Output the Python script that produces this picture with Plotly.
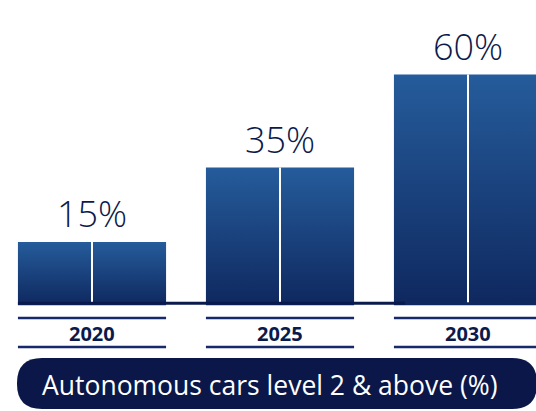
import plotly.graph_objects as go

# ---- data ----
years = ["2020", "2025", "2030"]
values = [15, 35, 60]
labels = ["15%", "35%", "60%"]
caption = "Autonomous cars level 2 & above (%)"

W, H = 536, 411
NAVY = "#0b1a4c"
PILL = "#0a1748"
TOP = "#255c9b"
BOTTOM = "#0f285f"

half = 0.394  # bar half-width in category units
base = -2.0

fig = go.Figure()
xs = list(range(len(years)))
for i, v in zip(xs, values):
    fig.add_trace(go.Scatter(
        x=[i - half, i + half, i + half, i - half, i - half],
        y=[base, base, v, v, base],
        mode="lines", line=dict(width=0), fill="toself",
        fillgradient=dict(type="vertical", start=base, stop=v,
                          colorscale=[[0, BOTTOM], [1, TOP]]),
        hoverinfo="skip", showlegend=False))
    # white divider
    fig.add_trace(go.Scatter(x=[i, i], y=[base + 0.8, v], mode="lines",
                             line=dict(color="white", width=2),
                             hoverinfo="skip", showlegend=False))

shapes = []
# baseline
shapes.append(dict(type="line", xref="x", yref="y", x0=-half, x1=1.665,
                   y0=-1.5, y1=-1.5, line=dict(color="#0b1a4c", width=3)))
# separator lines around year labels
for i in xs:
    for py in (318, 347):
        shapes.append(dict(type="line", xref="x", yref="paper",
                           x0=i - half, x1=i + half,
                           y0=1 - py / H, y1=1 - py / H,
                           line=dict(color="#16296a", width=2.5)))
# pill (pixel path anchored at paper 0,0; y up)
x0p, x1p, y0p, y1p, r = 17, 537, 2, 53, 25
path = (f"M {x0p + r},{y0p} L {x1p - r},{y0p} Q {x1p},{y0p} {x1p},{y0p + r} "
        f"L {x1p},{y1p - r} Q {x1p},{y1p} {x1p - r},{y1p} L {x0p + r},{y1p} "
        f"Q {x0p},{y1p} {x0p},{y1p - r} L {x0p},{y0p + r} Q {x0p},{y0p} {x0p + r},{y0p} Z")
shapes.append(dict(type="path", xref="paper", yref="paper", xsizemode="pixel",
                   ysizemode="pixel", xanchor=0, yanchor=0, path=path,
                   fillcolor=PILL, line=dict(width=0), layer="below"))

annotations = []
for i, v, t in zip(xs, values, labels):
    annotations.append(dict(x=i, y=v, xref="x", yref="y", text=t, showarrow=False,
                            yanchor="bottom", yshift=2,
                            font=dict(family="Open Sans", size=36, color=NAVY, weight=300)))
for i, yr in zip(xs, years):
    annotations.append(dict(x=i, y=1 - 333 / H, xref="x", yref="paper", text=yr,
                            showarrow=False, yanchor="middle",
                            font=dict(family="Open Sans", size=20, color=NAVY, weight="bold")))
annotations.append(dict(x=270 / W, y=1 - 385 / H, xref="paper", yref="paper",
                        text=caption, showarrow=False, yanchor="middle",
                        font=dict(family="Open Sans", size=26.5, color="white")))

px_per_unit = 3.72
zero_px = 297.7
y_top = zero_px / px_per_unit
y_bot = -(H - zero_px) / px_per_unit
x_left = -92 / 188
x_right = (W - 92) / 188

fig.update_layout(
    width=W, height=H, margin=dict(l=0, r=0, t=0, b=0),
    paper_bgcolor="white", plot_bgcolor="white",
    xaxis=dict(range=[x_left, x_right], visible=False, fixedrange=True),
    yaxis=dict(range=[y_bot, y_top], visible=False, fixedrange=True),
    shapes=shapes, annotations=annotations, showlegend=False,
)
fig.write_html("out.html")
